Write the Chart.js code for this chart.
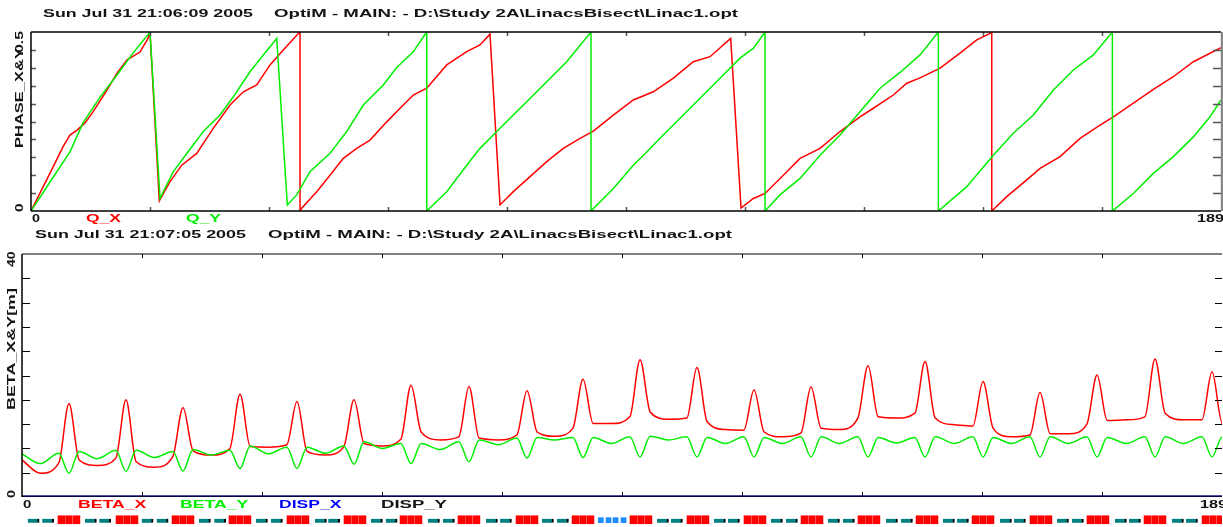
<!DOCTYPE html>
<html>
<head>
<meta charset="utf-8">
<script src="https://cdn.jsdelivr.net/npm/chart.js@4.4.0/dist/chart.umd.min.js"></script>
<style>
html, body { margin: 0; padding: 0; background: #fff; }
#wrap { position: relative; width: 1223px; height: 527px; overflow: hidden; }
canvas { position: absolute; left: 0; }
.lbl { position: absolute; font: bold 10px "Liberation Sans", Arial, sans-serif; line-height: 10px; white-space: pre; transform-origin: 0 0; }
</style>
</head>
<body>
<div id="wrap">
  <canvas id="c_phase" width="1223" height="230" style="top:0px"></canvas>
  <canvas id="c_beta" width="1223" height="302" style="top:225px"></canvas>
  <canvas id="c_elem" width="1223" height="15" style="top:512px"></canvas>
</div>
<script>
// lattice length, both panels run 0..189
const S_MAX = 189;

// texts
const titles = [
  ["Sun Jul 31 21:06:09 2005", "OptiM - MAIN: - D:\\Study 2A\\LinacsBisect\\Linac1.opt"],
  ["Sun Jul 31 21:07:05 2005", "OptiM - MAIN: - D:\\Study 2A\\LinacsBisect\\Linac1.opt"]
];
const s_ticks = ["0", "189"];
const phase_ticks = ["0", "0.5"];
const beta_ticks = ["0", "40"];
const phase_names = ["Q_X", "Q_Y"];
const beta_names = ["BETA_X", "BETA_Y", "DISP_X", "DISP_Y"];

// top plot, [s, phase] (wraps at 0.5)
const phase_x = [
  [0, 0], [3.02, 0.106], [5.08, 0.179], [6.19, 0.212], [7.31, 0.226], [8.58, 0.246], [9.85, 0.277],
  [12.07, 0.338], [13.66, 0.385], [15.25, 0.422], [17.31, 0.444], [18.58, 0.482], [18.90, 0.5],
  [20.38, 0.028], [22.08, 0.082], [23.94, 0.128], [26.32, 0.161], [28.95, 0.231], [31.61, 0.296],
  [33.72, 0.333], [35.85, 0.352], [37.96, 0.408], [40.07, 0.450], [42.46, 0.496], [42.73, 0.5],
  [42.73, 0], [42.99, 0.008], [45.38, 0.054], [47.49, 0.1], [49.60, 0.147], [51.73, 0.175],
  [53.84, 0.198], [56.50, 0.249], [58.61, 0.287], [60.72, 0.324], [62.85, 0.343], [66.03, 0.408],
  [69.20, 0.445], [71.31, 0.464], [72.90, 0.494], [74.49, 0.017], [76.60, 0.054], [79.26, 0.096],
  [81.91, 0.138], [84.55, 0.175], [87.20, 0.203], [89.31, 0.223], [92.49, 0.268], [95.66, 0.310],
  [98.84, 0.333], [102.02, 0.371], [105.19, 0.417], [107.85, 0.431], [111.13, 0.482], [112.77, 0.008],
  [114.72, 0.035], [116.58, 0.049], [119.49, 0.1], [122.14, 0.147], [125.32, 0.175], [128.49, 0.222],
  [131.67, 0.263], [133.78, 0.287], [136.96, 0.324], [139.09, 0.357], [141.20, 0.372], [144.38, 0.399],
  [147.55, 0.441], [150.21, 0.478], [152.32, 0.496], [152.59, 0.5], [152.59, 0], [154.97, 0.040],
  [158.15, 0.087], [160.26, 0.119], [163.44, 0.152], [166.61, 0.203], [169.79, 0.240], [171.90, 0.263],
  [175.08, 0.301], [178.26, 0.340], [181.43, 0.375], [184.61, 0.417], [189, 0.456]
];
const phase_y = [
  [0, 0], [3.02, 0.081], [6.19, 0.165], [8.26, 0.246], [10.96, 0.318], [13.66, 0.380], [16.20, 0.441],
  [18.90, 0.5], [20.49, 0.035], [22.60, 0.110], [24.98, 0.166], [27.37, 0.222], [30.02, 0.268],
  [32.13, 0.319], [34.78, 0.389], [36.90, 0.436], [39.03, 0.482], [40.71, 0.017], [42.20, 0.045],
  [44.31, 0.110], [47.49, 0.161], [50.14, 0.222], [52.78, 0.296], [55.95, 0.352], [58.08, 0.401],
  [60.72, 0.445], [62.85, 0.5], [62.85, 0], [66.03, 0.054], [69.20, 0.128], [71.31, 0.175],
  [73.97, 0.222], [76.60, 0.268], [78.73, 0.305], [81.91, 0.361], [85.08, 0.417], [88.94, 0.5],
  [88.94, 0], [92.49, 0.063], [95.66, 0.128], [97.79, 0.165], [99.90, 0.203], [103.08, 0.259],
  [106.26, 0.315], [109.43, 0.371], [112.61, 0.427], [114.72, 0.454], [116.58, 0.5], [116.58, 0],
  [118.96, 0.045], [122.14, 0.091], [125.32, 0.156], [128.49, 0.212], [131.67, 0.277], [134.85, 0.343],
  [138.02, 0.387], [141.20, 0.436], [144.11, 0.5], [144.11, 0], [148.62, 0.068], [152.84, 0.156],
  [156.02, 0.217], [159.20, 0.268], [162.38, 0.338], [165.55, 0.394], [168.73, 0.436], [171.75, 0.5],
  [171.75, 0], [175.08, 0.049], [178.26, 0.105], [181.43, 0.152], [184.61, 0.207], [187.26, 0.263],
  [189, 0.31]
];

// bottom plot, one entry per cell (centre of each red element)
const cell_s = [7.40, 16.38, 25.36, 34.34, 43.31, 52.29, 61.27, 70.40, 79.54, 88.36, 97.34,
  106.31, 115.29, 124.27, 133.25, 142.23, 151.36, 160.34, 169.32, 178.45, 187.43];
const betax_mid = [3.9, 5.2, 4.9, 6.9, 8.2, 6.9, 8.4, 9.4, 9.4, 10.0, 12.1, 12.8, 11.1, 9.9, 11.1, 13.0, 11.9, 9.9, 10.4, 12.7, 12.7];
const betax_in = [5.6, 6.4, 6.7, 8.0, 8.6, 8.3, 9.5, 9.9, 10.2, 11.3, 13.2, 13.0, 11.0, 10.5, 13.0, 13.8, 11.7, 10.2, 12.0, 13.2, 12.7];
const betax_peak = [15.4, 16.0, 14.7, 16.9, 15.7, 16.0, 18.4, 18.2, 17.5, 19.4, 22.6, 21.3, 17.6, 18.1, 21.6, 22.3, 19.0, 17.2, 20.1, 22.7, 20.6];
const betax_out = [6.1, 5.8, 7.6, 8.3, 7.5, 8.8, 10.7, 9.7, 10.7, 12.1, 14.0, 12.4, 10.7, 11.3, 13.2, 13.0, 11.3, 10.4, 12.6, 13.8, 12.2];
const betax_ends = [6.1, 12.0];
const betay_mid = [5.5, 6.3, 6.5, 6.9, 7.1, 7.2, 8.0, 7.8, 8.6, 9.4, 8.8, 9.4, 8.8, 8.8, 8.8, 8.9, 8.8, 8.8, 8.8, 8.8, 8.8];
const betay_in = [7.2, 7.7, 7.5, 7.7, 8.2, 8.4, 8.8, 9.1, 9.7, 9.8, 9.9, 9.9, 9.9, 9.9, 9.9, 9.8, 9.9, 9.9, 9.9, 9.9, 9.9];
const betay_dip = [3.9, 4.2, 4.3, 4.7, 4.7, 5.4, 5.5, 5.8, 6.4, 6.5, 6.6, 6.6, 6.6, 6.6, 6.6, 6.6, 6.6, 6.6, 6.6, 6.6, 6.6];
const betay_out = [7.5, 7.7, 7.8, 8.4, 8.2, 9.1, 8.8, 9.4, 9.8, 9.8, 10.0, 9.8, 9.8, 9.9, 9.8, 9.9, 9.8, 9.9, 9.8, 9.9, 9.9];
const betay_ends = [7.1, 9.9];
const disp_x = [[0, 0], [189, 0]];
const disp_y = [[0, 0], [189, 0]];

// element strip below the plot (start s, lengths)
const cav_start = [5.67, 14.81, 23.63, 32.60, 41.74, 50.72, 59.54, 68.67, 77.81, 86.63, 95.76,
  104.74, 113.72, 122.70, 131.67, 140.81, 149.63, 158.76, 167.74, 176.72, 185.86];
const cav_len = 1.05;
const quad_a = [0.90, 9.92, 18.85, 27.88, 36.86, 46.15, 54.97, 63.95, 73.08, 81.90, 100.02,
  108.99, 117.97, 126.95, 136.08, 145.06, 154.04, 163.02, 172.15, 181.13];
const quad_b = [3.20, 12.18, 21.22, 30.29, 39.22, 48.24, 57.28, 66.31, 75.29, 84.27, 102.22,
  111.20, 120.33, 129.31, 138.45, 147.27, 156.24, 165.38, 174.36, 183.34];
const quad_len = 1.8;
const bpm_start = [90.77, 91.98, 93.09, 94.35];
const bpm_len = 0.8;

const RED = "#ff0000", GREEN = "#00ee00", BLUE = "#0000ff", INK = "#141414";

// draws box edges and the inward ticks, using the chart scales
function frame_plugin(cfg) {
  return {
    id: "frame",
    afterDatasetsDraw(chart) {
      const ctx = chart.ctx, a = chart.chartArea;
      const x = chart.scales.x, y = chart.scales.y;
      ctx.save();
      ctx.strokeStyle = cfg.tick_color;
      ctx.lineWidth = cfg.tick_width;
      ctx.beginPath();
      for (let i = 1; i < 10; i++) {
        const px = Math.round(x.getPixelForValue(x.max * i / 10)) + 0.5;
        ctx.moveTo(px, a.top); ctx.lineTo(px, a.top + cfg.t[0]);
        ctx.moveTo(px, a.bottom); ctx.lineTo(px, a.bottom - cfg.t[1]);
        const py = Math.round(y.getPixelForValue(y.max * i / 10)) + 0.5;
        ctx.moveTo(a.left, py); ctx.lineTo(a.left + cfg.t[2], py);
        ctx.moveTo(a.right, py); ctx.lineTo(a.right - cfg.t[3], py);
      }
      ctx.stroke();
      for (const e of cfg.edges) {
        ctx.strokeStyle = e[1];
        ctx.lineWidth = e[2];
        ctx.beginPath();
        if (e[0] == "top") { ctx.moveTo(a.left, a.top); ctx.lineTo(a.right, a.top); }
        if (e[0] == "bottom") { ctx.moveTo(a.left, a.bottom); ctx.lineTo(a.right, a.bottom); }
        if (e[0] == "left") { ctx.moveTo(a.left, a.top); ctx.lineTo(a.left, a.bottom); }
        if (e[0] == "right") { ctx.moveTo(a.right + 1, a.top); ctx.lineTo(a.right + 1, a.bottom); }
        ctx.stroke();
      }
      ctx.restore();
    }
  };
}

const pts = arr => arr.map(p => ({x: p[0], y: p[1]}));

// the beta curves, built from the per cell readings
const QUAD_HALF = 1.6, HALF_CELL = 4.5;
function beta_pts(ends, mid, inn, top, out) {
  const res = [{x: 0, y: ends[0]}];
  cell_s.forEach((s, k) => {
    res.push({x: s - HALF_CELL, y: mid[k]}, {x: s - QUAD_HALF, y: inn[k]},
      {x: s, y: top[k]}, {x: s + QUAD_HALF, y: out[k]});
  });
  res.push({x: S_MAX, y: ends[1]});
  return res;
}

const base_opts = (pad, ymax) => ({
  responsive: false, animation: false, events: [],
  layout: {padding: pad},
  scales: {
    x: {type: "linear", min: 0, max: S_MAX, display: false},
    y: {type: "linear", min: 0, max: ymax, display: false}
  },
  plugins: {legend: {display: false}, tooltip: {enabled: false}}
});

new Chart(document.getElementById("c_phase"), {
  type: "line",
  data: {datasets: [
    {label: phase_names[0], data: pts(phase_x), borderColor: RED, borderWidth: 1.5, pointRadius: 0, order: 2},
    {label: phase_names[1], data: pts(phase_y), borderColor: GREEN, borderWidth: 1.5, pointRadius: 0, order: 1}
  ]},
  options: base_opts({left: 31, top: 32, right: 2, bottom: 19}, 0.5),
  plugins: [frame_plugin({
    tick_color: "#555", tick_width: 1.5, t: [4, 4, 5, 8],
    edges: [["top", "#000", 1.5], ["bottom", "#000", 1.5], ["left", "#000", 1.5], ["right", "#888", 2.5]]
  })]
});

new Chart(document.getElementById("c_beta"), {
  type: "line",
  data: {datasets: [
    {label: beta_names[0], data: beta_pts(betax_ends, betax_mid, betax_in, betax_peak, betax_out),
      borderColor: RED, borderWidth: 1.5, pointRadius: 0, cubicInterpolationMode: "monotone", order: 3},
    {label: beta_names[1], data: beta_pts(betay_ends, betay_mid, betay_in, betay_dip, betay_out),
      borderColor: GREEN, borderWidth: 1.5, pointRadius: 0, cubicInterpolationMode: "monotone", order: 2},
    {label: beta_names[2], data: pts(disp_x), borderColor: BLUE, borderWidth: 3, pointRadius: 0, order: 1},
    {label: beta_names[3], data: pts(disp_y), borderColor: "rgba(0,0,0,0.72)", borderWidth: 3, pointRadius: 0, order: 0}
  ]},
  options: base_opts({left: 22, top: 29, right: 1, bottom: 30}, 40),
  plugins: [frame_plugin({
    tick_color: "#000", tick_width: 1, t: [4, 5, 8, 7],
    edges: [["top", "#000", 1], ["left", "#000", 1.5]]
  })]
});

// element strip: floating horizontal bars on the same s axis
const cav_bars = [];
for (const s of cav_start) {
  for (let j = 0; j < 3; j++) {
    const a = s + j * (cav_len + 0.15);
    cav_bars.push({x: [a, a + cav_len], y: 7});
  }
}
const quad_bars = quad_a.concat(quad_b).map(s => ({x: [s, s + quad_len], y: 5}));
const bpm_bars = bpm_start.map(s => ({x: [s, s + bpm_len], y: 6.2}));

const elem_opts = base_opts({left: 22, top: 0, right: 1, bottom: 0}, 15);
elem_opts.indexAxis = "y";
new Chart(document.getElementById("c_elem"), {
  type: "bar",
  data: {datasets: [
    {data: cav_bars, backgroundColor: RED, barThickness: 8, grouped: false, borderWidth: 0},
    {data: quad_bars, backgroundColor: "#008080", borderColor: "#000", barThickness: 4, grouped: false,
      borderSkipped: false, borderWidth: {left: 0, right: 2, top: 0, bottom: 0}},
    {data: bpm_bars, backgroundColor: "#1e8cff", barThickness: 5, grouped: false, borderWidth: 0}
  ]},
  options: elem_opts
});

// labels as real text, each stretched to the width it has in the picture
const wrap = document.getElementById("wrap");
const BASE = 8.47;
function put(text, x, base, w, color, rot) {
  const el = document.createElement("div");
  el.className = "lbl";
  el.textContent = text;
  el.style.color = color;
  wrap.appendChild(el);
  const k = w / el.getBoundingClientRect().width;
  if (!rot) {
    el.style.left = x + "px";
    el.style.top = (base - BASE) + "px";
    el.style.transform = "scaleX(" + k + ")";
  } else {
    el.style.left = (base - BASE) + "px";
    el.style.top = x + "px";
    el.style.transform = "rotate(-90deg) scaleX(" + k + ")";
  }
}

put(titles[0][0], 43, 17.3, 210, INK);
put(titles[0][1], 274, 17.3, 464, INK);
put("PHASE_X&Y", 148.3, 23.3, 100, INK, true);
put(phase_ticks[1], 53, 23.3, 22, INK, true);
put(phase_ticks[0], 212, 23.3, 8.5, INK, true);
put(s_ticks[0], 32, 222.5, 8, INK);
put(s_ticks[1], 1197, 222.5, 27, INK);
put(phase_names[0], 85.5, 222.5, 35, RED);
put(phase_names[1], 186, 222.5, 35, GREEN);

put(titles[1][0], 35, 238.3, 211, INK);
put(titles[1][1], 267.7, 238.3, 464, INK);
put("BETA_X&Y[m]", 410, 15, 122, INK, true);
put(beta_ticks[1], 267, 15, 15.5, INK, true);
put(beta_ticks[0], 497.5, 15, 8, INK, true);
put(s_ticks[0], 23.3, 508.3, 8.4, INK);
put(s_ticks[1], 1200, 508.3, 27, INK);
put(beta_names[0], 78.3, 508.3, 68.4, RED);
put(beta_names[1], 180, 508.3, 68.3, GREEN);
put(beta_names[2], 279.3, 508.3, 62.4, BLUE);
put(beta_names[3], 381, 508.3, 66, INK);
</script>
</body>
</html>
